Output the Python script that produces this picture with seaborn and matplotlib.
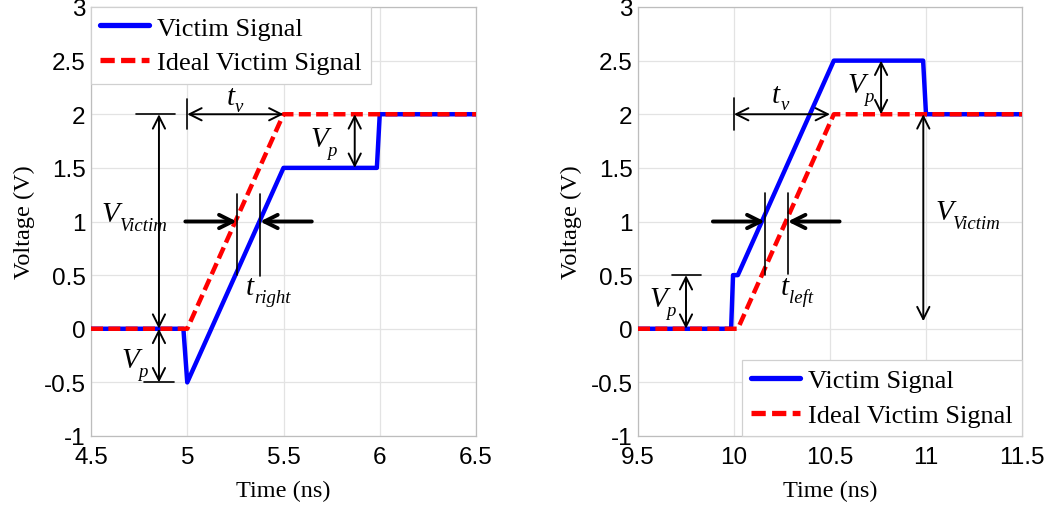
import numpy as np
import pandas as pd
import matplotlib
matplotlib.use("Agg")
import matplotlib.pyplot as plt
import seaborn as sns

# ---- data ----
left_victim_t = [4.5, 4.98, 5.0, 5.5, 5.985, 6.0, 6.5]
left_victim_v = [0.0, 0.0, -0.5, 1.5, 1.5, 2.0, 2.0]
left_ideal_t = [4.5, 5.0, 5.5, 6.5]
left_ideal_v = [0.0, 0.0, 2.0, 2.0]

right_victim_t = [9.5, 9.985, 9.995, 10.02, 10.52, 10.985, 11.0, 11.5]
right_victim_v = [0.0, 0.0, 0.5, 0.5, 2.5, 2.5, 2.0, 2.0]
right_ideal_t = [9.5, 10.02, 10.52, 11.5]
right_ideal_v = [0.0, 0.0, 2.0, 2.0]

yticks = [-1, -0.5, 0, 0.5, 1, 1.5, 2, 2.5, 3]
ytick_labels = ["-1", "-0.5", "0", "0.5", "1", "1.5", "2", "2.5", "3"]
left_xticks = [4.5, 5, 5.5, 6, 6.5]
left_xtick_labels = ["4.5", "5", "5.5", "6", "6.5"]
right_xticks = [9.5, 10, 10.5, 11, 11.5]
right_xtick_labels = ["9.5", "10", "10.5", "11", "11.5"]

series_names = ["Victim Signal", "Ideal Victim Signal"]

# ---- style ----
sns.set_theme(style="whitegrid")
plt.rcParams["font.family"] = ["Liberation Serif", "DejaVu Serif"]
plt.rcParams["axes.unicode_minus"] = False
plt.rcParams["text.color"] = "black"
plt.rcParams["axes.labelcolor"] = "black"
plt.rcParams["xtick.color"] = "black"
plt.rcParams["ytick.color"] = "black"

fig = plt.figure(figsize=(10.53, 5.10), dpi=100)
ax1 = fig.add_axes([91 / 1053, 73 / 510, 385 / 1053, 429 / 510])
ax2 = fig.add_axes([638 / 1053, 73 / 510, 384 / 1053, 429 / 510])

BLUE = "#0000ff"
RED = "#ff0000"


def draw(ax, vt, vv, it, iv, xlim, xticks, xlabels, legend_loc):
    dv = pd.DataFrame({"t": vt, "v": vv})
    di = pd.DataFrame({"t": it, "v": iv})
    sns.lineplot(data=dv, x="t", y="v", ax=ax, sort=False, estimator=None,
                 color=BLUE, lw=3.2, label=series_names[0], zorder=3)
    sns.lineplot(data=di, x="t", y="v", ax=ax, sort=False, estimator=None,
                 color=RED, lw=3.2, label=series_names[1], zorder=4,
                 dashes=False)
    ax.lines[-1].set_dashes([2.7, 1.2])
    ax.set_xlim(*xlim)
    ax.set_ylim(-1, 3)
    ax.set_xticks(xticks)
    ax.set_xticklabels(xlabels, fontfamily="Liberation Sans", fontsize=17.5)
    ax.set_yticks(yticks)
    ax.set_yticklabels(ytick_labels, fontfamily="Liberation Sans", fontsize=17.5)
    ax.tick_params(axis="x", length=0, pad=7)
    ax.tick_params(axis="y", length=0, pad=4)
    ax.grid(True, color="#e3e3e3", lw=0.9)
    for s in ax.spines.values():
        s.set_color("#bdbdbd")
        s.set_linewidth(0.9)
    ax.set_xlabel("Time (ns)", fontsize=17.5, labelpad=9)
    ax.set_ylabel("Voltage (V)", fontsize=17.5, labelpad=6)
    leg = ax.legend(loc=legend_loc, fontsize=19, frameon=True, fancybox=False,
                    borderaxespad=0, framealpha=1, edgecolor="#d0d0d0",
                    handlelength=1.85, borderpad=0.35, labelspacing=0.42,
                    handletextpad=0.3)
    leg.get_frame().set_linewidth(0.9)
    for h in leg.get_lines():
        h.set_linewidth(3.8)


def dbl(ax, p1, p2, lw=1.4):
    ax.annotate("", xy=p2, xytext=p1,
                arrowprops=dict(arrowstyle="<->", lw=lw, color="black",
                                mutation_scale=22, shrinkA=0, shrinkB=0),
                zorder=6)


def bold(ax, start, end):
    ax.annotate("", xy=end, xytext=start,
                arrowprops=dict(arrowstyle="->", lw=2.8, color="black",
                                mutation_scale=24, shrinkA=0, shrinkB=0),
                zorder=6)


def seg(ax, xs, ys, lw=1.2):
    ax.plot(xs, ys, color="black", lw=lw, zorder=6)


MAIN_FS = 21
SUB_FS = 13.5


def sym(ax, x, y, main, sub, dx, dy=-6.5):
    ax.text(x, y, main, fontsize=MAIN_FS, style="italic", ha="left",
            va="baseline", zorder=7)
    ax.annotate(sub, xy=(x, y), xytext=(dx, dy), textcoords="offset points",
                fontsize=SUB_FS, style="italic", ha="left", va="baseline",
                zorder=7)


draw(ax1, left_victim_t, left_victim_v, left_ideal_t, left_ideal_v,
     (4.5, 6.5), left_xticks, left_xtick_labels, "upper left")
draw(ax2, right_victim_t, right_victim_v, right_ideal_t, right_ideal_v,
     (9.5, 11.5), right_xticks, right_xtick_labels, "lower right")

VDX = 12
TDX = 6
# ---- left annotations ----
seg(ax1, [4.735, 4.935], [2, 2])
dbl(ax1, (4.853, 2.0), (4.853, 0.0))
sym(ax1, 4.557, 1.005, "V", "Victim", VDX)
seg(ax1, [4.775, 4.93], [-0.5, -0.5])
dbl(ax1, (4.853, 0.0), (4.853, -0.5))
sym(ax1, 4.66, -0.357, "V", "p", VDX)
seg(ax1, [5.0, 5.0], [1.86, 2.14])
dbl(ax1, (5.0, 2.0), (5.5, 2.0))
sym(ax1, 5.206, 2.095, "t", "v", TDX, -5)
dbl(ax1, (5.87, 2.0), (5.87, 1.5))
sym(ax1, 5.638, 1.704, "V", "p", VDX)
seg(ax1, [5.257, 5.257], [0.5, 1.26])
seg(ax1, [5.378, 5.378], [0.49, 1.26])
bold(ax1, (4.99, 1.0), (5.257, 1.0))
bold(ax1, (5.647, 1.0), (5.378, 1.0))
sym(ax1, 5.305, 0.324, "t", "right", TDX, -5.5)

# ---- right annotations ----
seg(ax2, [9.677, 9.828], [0.5, 0.5])
dbl(ax2, (9.75, 0.5), (9.75, 0.0))
sym(ax2, 9.559, 0.212, "V", "p", VDX)
seg(ax2, [10.0, 10.0], [1.85, 2.15])
dbl(ax2, (10.0, 2.0), (10.5, 2.0))
sym(ax2, 10.198, 2.114, "t", "v", TDX, -5)
dbl(ax2, (10.766, 2.5), (10.766, 2.0))
sym(ax2, 10.589, 2.207, "V", "p", VDX)
dbl(ax2, (10.986, 2.0), (10.986, 0.07))
sym(ax2, 11.048, 1.023, "V", "Victim", VDX)
seg(ax2, [10.16, 10.16], [0.5, 1.27])
seg(ax2, [10.28, 10.28], [0.51, 1.27])
bold(ax2, (9.89, 1.0), (10.16, 1.0))
bold(ax2, (10.55, 1.0), (10.28, 1.0))
sym(ax2, 10.245, 0.324, "t", "left", TDX, -5.5)

fig.savefig("out.png", dpi=100)
